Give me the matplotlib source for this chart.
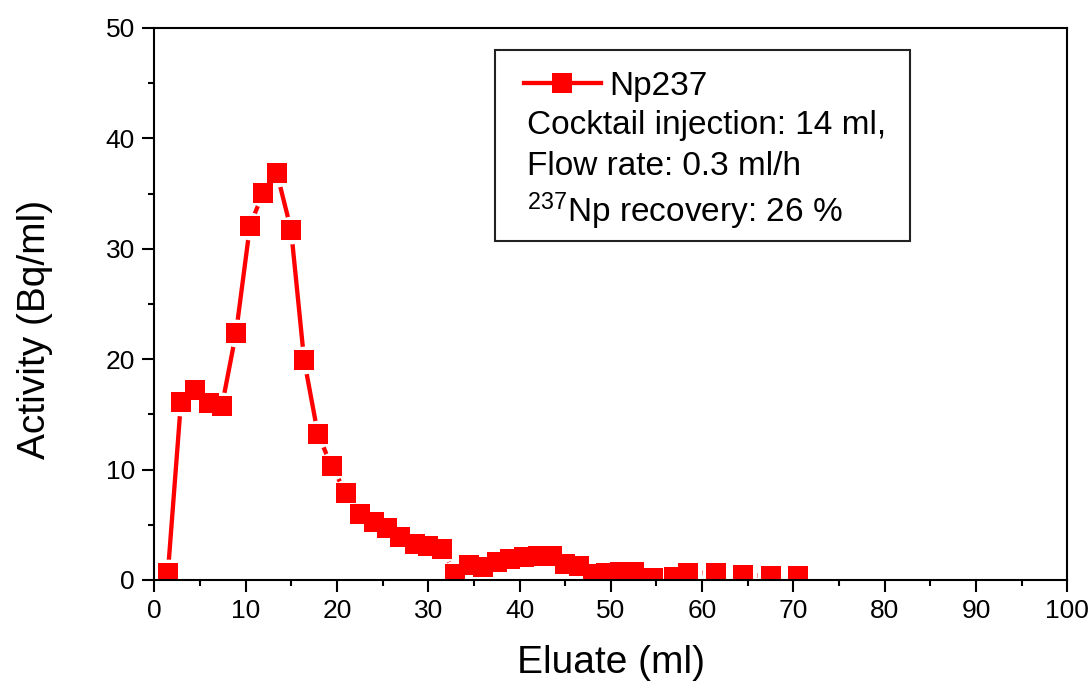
import matplotlib
matplotlib.use("Agg")
import matplotlib.pyplot as plt
from matplotlib.patches import Rectangle
from matplotlib.ticker import MultipleLocator

# ---- data ----
eluate_ml = [1.47, 2.9, 4.45, 5.98, 7.4, 8.94, 10.47, 11.9, 13.4, 14.97,
             16.4, 17.9, 19.4, 21.0, 22.5, 24.0, 25.5, 26.9, 28.5, 30.0,
             31.5, 32.9, 34.5, 36.0, 37.5, 39.0, 40.5, 42.0, 43.5, 45.0,
             46.5, 48.0, 49.5, 51.0, 52.5, 54.6, 56.9, 58.5, 61.5, 64.5,
             67.5, 70.5]
activity = [0.63, 16.1, 17.2, 16.0, 15.8, 22.4, 32.1, 35.05, 36.9, 31.7,
            19.9, 13.25, 10.3, 7.88, 6.0, 5.23, 4.74, 3.87, 3.26, 3.1,
            2.85, 0.52, 1.36, 1.18, 1.6, 1.9, 2.04, 2.2, 2.15, 1.45,
            1.3, 0.52, 0.63, 0.7, 0.7, 0.18, 0.3, 0.66, 0.6, 0.42,
            0.37, 0.33]
series_name = "Np237"
info_lines = ["Cocktail injection: 14 ml,",
              "Flow rate: 0.3 ml/h",
              r"$\mathregular{^{237}}$Np recovery: 26 %"]
x_label = "Eluate (ml)"
y_label = "Activity (Bq/ml)"

plt.rcParams['font.family'] = ['Liberation Sans', 'DejaVu Sans']
plt.rcParams['mathtext.fontset'] = 'custom'
plt.rcParams['mathtext.rm'] = 'Liberation Sans'

fig = plt.figure(figsize=(10.9, 6.82), dpi=100)
ax = fig.add_axes([0.1417, 0.1496, 0.8374, 0.8094])

red = '#ff0000'
# connecting line
ax.plot(eluate_ml, activity, '-', color=red, lw=3.1, zorder=2,
        solid_capstyle='round')
# gaps around markers (Origin style)
ax.plot(eluate_ml, activity, 'o', ls='none', color='white', ms=20,
        mew=0, zorder=2.1)
# markers
ax.plot(eluate_ml, activity, 's', ls='none', color=red, ms=14, mew=0,
        zorder=2.2)

ax.set_xlim(0, 100)
ax.set_ylim(0, 50)
ax.xaxis.set_major_locator(MultipleLocator(10))
ax.xaxis.set_minor_locator(MultipleLocator(5))
ax.yaxis.set_major_locator(MultipleLocator(10))
ax.yaxis.set_minor_locator(MultipleLocator(5))
ax.tick_params(which='major', direction='out', length=8.5, width=1.5,
               labelsize=19, pad=5.5, top=False, right=False)
ax.tick_params(which='minor', direction='out', length=4.3, width=1.5,
               top=False, right=False)
for s in ax.spines.values():
    s.set_linewidth(1.5)

ax.set_xlabel(x_label, fontsize=28, labelpad=15.5)
ax.set_ylabel(y_label, fontsize=28)
ax.yaxis.set_label_coords(-0.111, 0.453)

# info box
ax.add_patch(Rectangle((0.373, 0.614), 0.455, 0.346, transform=ax.transAxes,
                       fill=False, edgecolor='#222222', lw=1.5, zorder=5))

handle, = ax.plot([], [], '-s', color=red, lw=3.1, ms=14, mew=0)
leg = ax.legend([handle], [series_name], loc='upper left',
                bbox_to_anchor=(0.405, 0.922), frameon=False, fontsize=24,
                handlelength=2.3, handletextpad=0.25, borderpad=0,
                borderaxespad=0)

ys = [0.8074, 0.7337, 0.649]
for txt, yy in zip(info_lines, ys):
    ax.text(0.408, yy, txt, transform=ax.transAxes, fontsize=24,
            va='baseline', ha='left')

fig.savefig('out.png', dpi=100)
